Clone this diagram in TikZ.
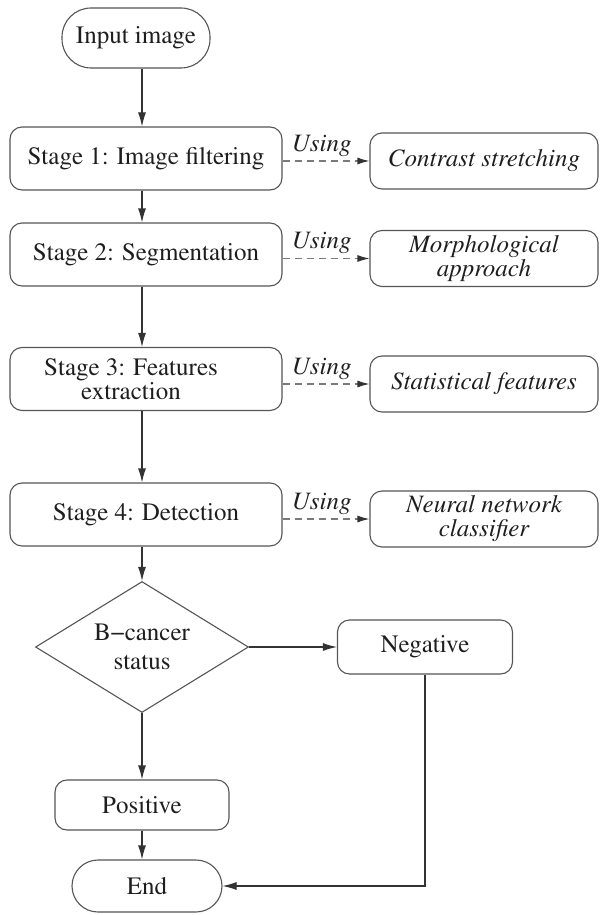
\documentclass[tikz,border=0pt]{standalone}
\usepackage[T1]{fontenc}
\usepackage{mathptmx}
\usetikzlibrary{shapes.geometric,arrows.meta}
\definecolor{linec}{HTML}{333333}
\definecolor{boxc}{HTML}{555555}
\definecolor{dashc}{HTML}{7A7A7A}
\definecolor{txtc}{HTML}{1E1E1E}
\tikzset{
  basebox/.style={draw=boxc, line width=1.1pt, inner sep=0pt, align=center, text=txtc,
    font=\rmfamily\fontsize{25}{19}\selectfont},
  stagebox/.style={basebox, rounded corners=12pt, minimum width=272pt, minimum height=63pt},
  toolbox/.style={basebox, rounded corners=12pt, minimum width=228pt, minimum height=56pt,
    font=\rmfamily\fontsize{25}{24}\selectfont\itshape},
  smallbox/.style={basebox, rounded corners=12pt, minimum width=175pt, minimum height=52pt},
  termbox/.style={basebox, rounded corners=26pt, minimum width=150pt, minimum height=56pt},
  decbox/.style={basebox, diamond, aspect=1.6, minimum width=213pt, minimum height=131pt,
    font=\rmfamily\fontsize{25}{29}\selectfont},
  plaintext/.style={inner sep=0pt, align=center, text=txtc, font=\rmfamily\fontsize{25}{21}\selectfont},
  arr/.style={draw=linec, line width=1.1pt, -{Latex[length=14pt,width=8pt]}},
  dasharr/.style={draw=dashc, line width=1.1pt, dashed, dash pattern=on 7pt off 5pt,
    -{Latex[length=12pt,width=7pt,color=linec]}},
  uselabel/.style={text=txtc, inner sep=0pt, font=\rmfamily\fontsize{25}{25}\selectfont\itshape},
}
\begin{document}
\begin{tikzpicture}[x=1pt,y=-1pt]
\useasboundingbox (0,0) rectangle (600,915);

\node[termbox, minimum width=148pt, minimum height=60pt, rounded corners=29pt] (in) at (136,38) {Input image};

\node[stagebox] (s1) at (146,158.5) {Stage 1: Image filtering};
\node[stagebox] (s2) at (146,254.5) {Stage 2: Segmentation};
\node[stagebox] (s3) at (146,379) {};
\node[plaintext] (s3t) at (131,379) {Stage 3: Features\\extraction};
\node[stagebox] (s4) at (146,514.5) {Stage 4: Detection};

\node[toolbox] (t1) at (484,161) {Contrast stretching};
\node[toolbox] (t2) at (484,258.5) {Morphological\\approach};
\node[toolbox] (t3) at (484,384) {Statistical features};
\node[toolbox] (t4) at (484,519) {Neural network\\classifier};

\node[decbox] (d) at (142,647) {B\textminus cancer\\status};
\node[smallbox, minimum height=54pt] (neg) at (425,647) {Negative};
\node[smallbox, minimum width=174pt, minimum height=50pt] (pos) at (142,805) {Positive};
\node[termbox, minimum width=150pt, minimum height=52pt] (end) at (147,886) {End};

% main flow
\draw[arr] (in.south -| d.north) -- (s1.north -| d.north);
\draw[arr] (s1.south -| d.north) -- (s2.north -| d.north);
\draw[arr] (s2.south -| d.north) -- (s3.north -| d.north);
\draw[arr] (s3.south -| d.north) -- (s4.north -| d.north);
\draw[arr] (s4.south -| d.north) -- (d.north);
\draw[arr] (d.south) -- (pos.north -| d.south);
\draw[arr] (pos.south -| d.south) -- (end.north -| d.south);
\draw[arr] (d.east) -- (neg.west);
\draw[arr] (neg.south) |- (end.east);

% using links
\draw[dasharr] (s1.east |- t1.west) -- node[uselabel, above=4pt, pos=0.45] {Using} (t1.west);
\draw[dasharr] (s2.east |- t2.west) -- node[uselabel, above=4pt, pos=0.45] {Using} (t2.west);
\draw[dasharr] (s3.east |- t3.west) -- node[uselabel, above=4pt, pos=0.45] {Using} (t3.west);
\draw[dasharr] (s4.east |- t4.west) -- node[uselabel, above=4pt, pos=0.45] {Using} (t4.west);
\end{tikzpicture}
\end{document}
